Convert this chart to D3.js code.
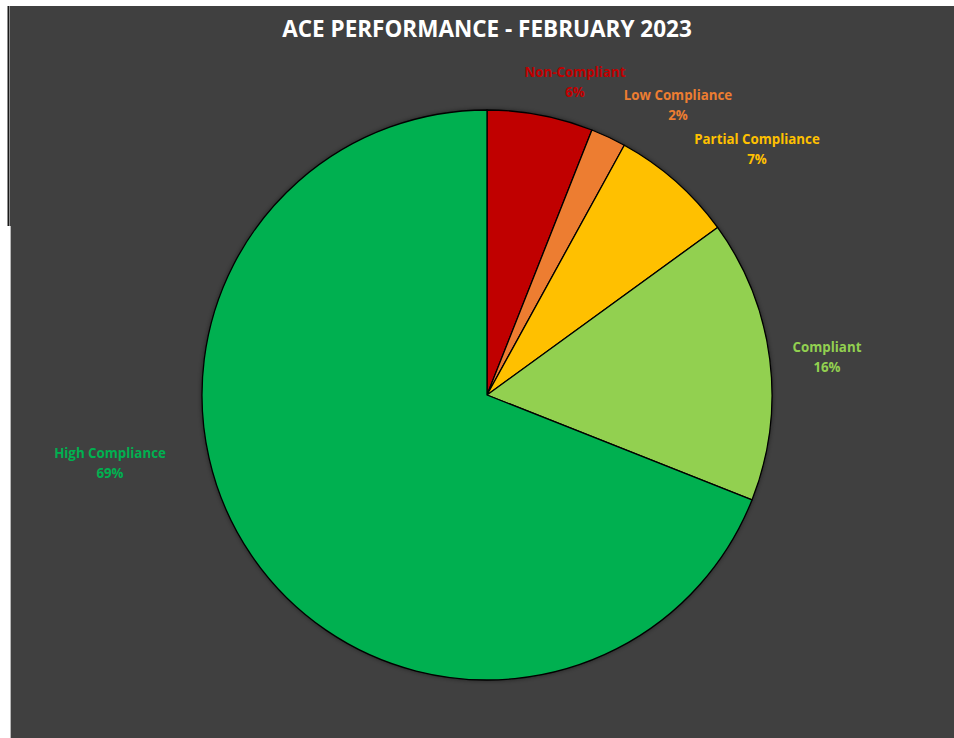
<!DOCTYPE html>
<html>
<head>
<meta charset="utf-8">
<script src="https://cdn.jsdelivr.net/npm/d3@7"></script>
<style>
  html, body { margin: 0; padding: 0; background: #ffffff; }
  svg { display: block; }
</style>
</head>
<body>
<svg id="chart" width="954" height="738"></svg>
<script>
// Compliance categories, in clockwise order from 12 o'clock
const categories = ["Non-Compliant", "Low Compliance", "Partial Compliance", "Compliant", "High Compliance"];
const shares = [6, 2, 7, 16, 69];
const sliceColors = ["#C00000", "#ED7D31", "#FFC000", "#92D050", "#00B050"];
const titleText = "ACE PERFORMANCE - FEBRUARY 2023";

const svg = d3.select("#chart");
const W = 954, H = 738;

// Chart panel
svg.append("rect").attr("x", 10).attr("y", 6).attr("width", W - 10).attr("height", H - 6).attr("fill", "#404040");
svg.append("line").attr("x1", 8.5).attr("x2", 8.5).attr("y1", 6).attr("y2", 226)
  .attr("stroke", "#1a1a1a").attr("stroke-width", 2);
svg.append("line").attr("x1", 10.5).attr("x2", 10.5).attr("y1", 226).attr("y2", H)
  .attr("stroke", "#b8b8b8").attr("stroke-width", 1);

// Title
svg.append("text")
  .attr("x", 487).attr("y", 37)
  .attr("text-anchor", "middle")
  .attr("fill", "#ffffff")
  .attr("font-family", "'Open Sans', sans-serif")
  .attr("font-weight", 700)
  .attr("font-size", 22.5)
  .text(titleText);

// Pie
const cx = 487, cy = 395, R = 285;
const data = categories.map((c, i) => ({ name: c, value: shares[i], color: sliceColors[i] }));
const pie = d3.pie().value(d => d.value).sort(null);
const arcs = pie(data);
const arc = d3.arc().innerRadius(0).outerRadius(R);

const defs = svg.append("defs");
const f = defs.append("filter").attr("id", "shadow").attr("x", "-10%").attr("y", "-10%").attr("width", "120%").attr("height", "120%");
f.append("feDropShadow").attr("dx", 0).attr("dy", 0).attr("stdDeviation", 2.5).attr("flood-color", "#000").attr("flood-opacity", 0.6);

const g = svg.append("g").attr("transform", `translate(${cx},${cy})`);
g.append("circle").attr("r", R).attr("fill", "#404040").attr("filter", "url(#shadow)");
g.selectAll("path.slice")
  .data(arcs)
  .join("path")
  .attr("class", "slice")
  .attr("d", arc)
  .attr("fill", d => d.data.color)
  .attr("stroke", "#000000")
  .attr("stroke-width", 1.3)
  .attr("stroke-linejoin", "round");

// Data labels, placed outside their slices
const labelPos = {
  "Non-Compliant": [575, 77],
  "Low Compliance": [678, 100],
  "Partial Compliance": [757, 144],
  "Compliant": [827, 352],
  "High Compliance": [110, 458]
};
const labels = svg.append("g")
  .attr("font-family", "'Open Sans', sans-serif")
  .attr("font-weight", 700)
  .attr("font-size", 13.3)
  .attr("text-anchor", "middle");
data.forEach(d => {
  const [x, y] = labelPos[d.name];
  const t = labels.append("text").attr("fill", d.color).attr("x", x).attr("y", y);
  t.append("tspan").attr("x", x).attr("dy", 0).text(d.name);
  t.append("tspan").attr("x", x).attr("dy", 19.5).text(d.value + "%");
});
</script>
</body>
</html>
